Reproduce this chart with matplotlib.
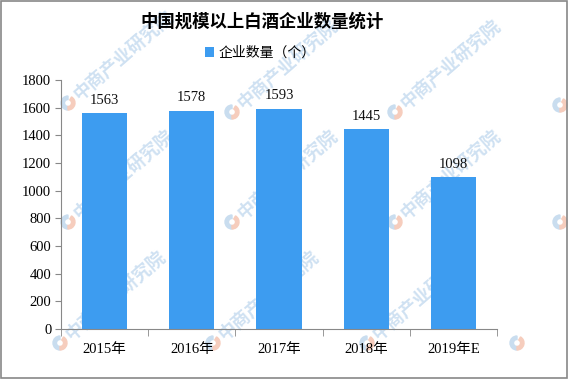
import matplotlib
matplotlib.use("Agg")
import matplotlib.pyplot as plt
from matplotlib.patches import Rectangle, Wedge

categories = ["2015年", "2016年", "2017年", "2018年", "2019年E"]
values = [1563, 1578, 1593, 1445, 1098]
yticks = [0, 200, 400, 600, 800, 1000, 1200, 1400, 1600, 1800]
title = "中国规模以上白酒企业数量统计"
series_name = "企业数量（个）"
watermark = "中商产业研究院"

FAM = ["Liberation Serif", "Noto Sans CJK SC", "DejaVu Sans"]
plt.rcParams['font.family'] = FAM

W, H = 568, 379
fig = plt.figure(figsize=(W / 100, H / 100), dpi=100)

# background watermark layer (pixel coordinates)
bg = fig.add_axes([0, 0, 1, 1], zorder=0)
bg.set_xlim(0, W)
bg.set_ylim(H, 0)
bg.axis("off")
logo_pos = [(68, 103), (232, 112), (395, 112),
            (68, 222), (232, 222), (395, 222),
            (60, 343), (213, 343), (367, 343)]
logo_only = [(560, 105), (560, 222), (517, 343)]
for (lx, ly) in logo_pos + logo_only:
    bg.add_patch(Wedge((lx, ly), 7, 90, 270, width=3.5, color="#c9ddef", zorder=1))
    bg.add_patch(Wedge((lx, ly), 7, -60, 90, width=3.5, color="#f6cdbd", zorder=1))
for (lx, ly) in logo_pos:
    bg.text(lx + 8, ly - 6, watermark, rotation=41, rotation_mode="anchor", ha="left",
            va="center", fontsize=13, color="#cfe1f2", family=["Noto Sans CJK SC"],
            fontweight="bold", zorder=1)

ax = fig.add_axes([0.1074, 0.132, 0.7676, 0.657], zorder=2)
ax.patch.set_alpha(0)
color = "#3d9cf0"
x = list(range(len(categories)))
bars = ax.bar(x, values, width=0.52, color=color, label=series_name, zorder=2)
for xi, v in zip(x, values):
    ax.text(xi, v + 45, str(v), ha="center", va="bottom", fontsize=10.5, color="#111111")

ax.set_xlim(-0.5, len(categories) - 0.5)
ax.set_ylim(0, 1800)
ax.set_yticks(yticks)
ax.set_yticklabels([str(t) for t in yticks], fontsize=10.5)
ax.set_xticks(x)
ax.set_xticklabels(categories, fontsize=10.5)
ax.tick_params(axis="x", length=0, pad=10)
ax.set_xticks([i - 0.5 for i in range(len(categories) + 1)], minor=True)
ax.tick_params(axis="x", which="minor", length=5, color="#888888")
ax.tick_params(axis="y", length=4, color="#888888", pad=3)
for s in ["top", "right"]:
    ax.spines[s].set_visible(False)
for s in ["left", "bottom"]:
    ax.spines[s].set_color("#888888")

fig.text(0.461, 0.942, title, ha="center", va="center", fontsize=12.5, fontweight="bold",
         family=["Noto Sans CJK SC"], zorder=3)
leg = fig.legend(handles=[bars], labels=[series_name], loc="center", bbox_to_anchor=(0.458, 0.86),
                 frameon=False, handlelength=0.7, handleheight=0.7, handletextpad=0.3,
                 prop={"family": ["Noto Sans CJK SC"], "size": 10})

fig.patches.append(Rectangle((0.0015, 0.002), 0.997, 0.996, transform=fig.transFigure,
                             fill=False, edgecolor="#888888", linewidth=1.2))
fig.savefig("out.png", dpi=100)
